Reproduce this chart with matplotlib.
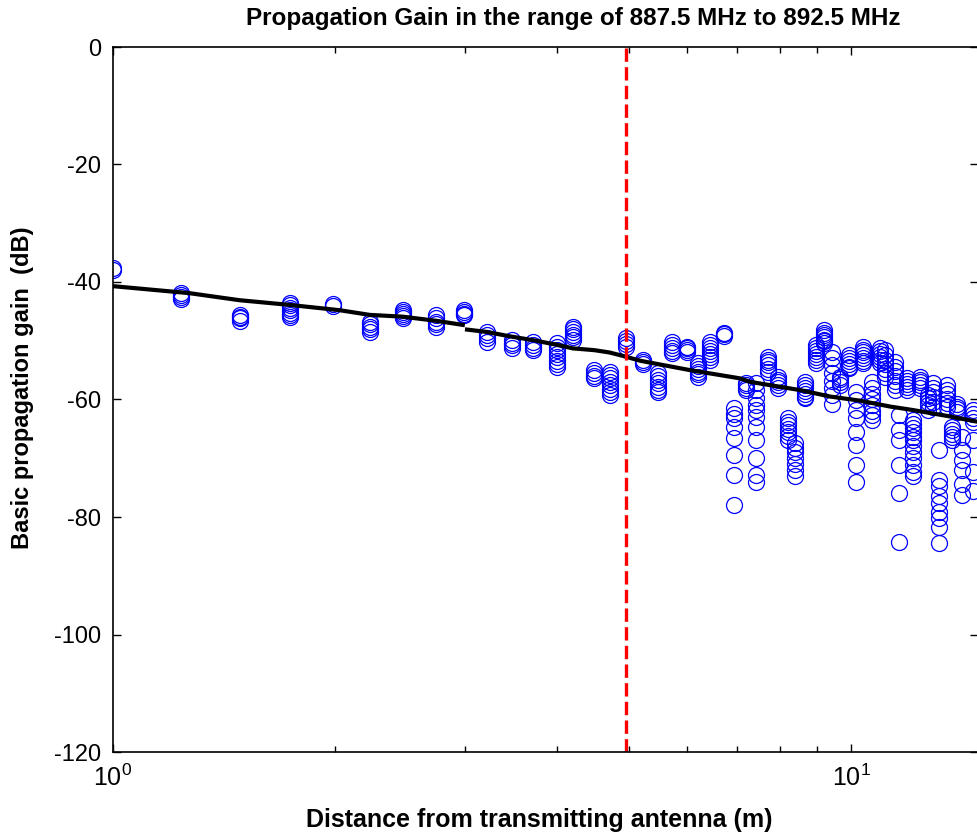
import numpy as np
import matplotlib
matplotlib.use('Agg')
import matplotlib.pyplot as plt

plt.rcParams['font.family'] = ['Liberation Sans', 'DejaVu Sans']
plt.rcParams['mathtext.fontset'] = 'custom'
plt.rcParams['mathtext.rm'] = 'Liberation Sans'
plt.rcParams['mathtext.it'] = 'Liberation Sans'
plt.rcParams['axes.unicode_minus'] = False

# measured points: distance (m) of each group and the gains (dB) measured there
cluster_dist = [1.0, 1.239, 1.486, 1.737, 1.987, 2.23, 2.47, 2.74, 2.99, 3.21,
                3.47, 3.71, 4.0, 4.2, 4.49, 4.71, 4.95, 5.23, 5.48, 5.72,
                6.0, 6.2, 6.44, 6.73, 6.94, 7.21, 7.43, 7.72, 7.96, 8.21,
                8.4, 8.66, 8.97, 9.19, 9.43, 9.66, 9.94, 10.16, 10.38, 10.68,
                10.95, 11.1, 11.47, 11.61, 11.91, 12.13, 12.38, 12.72, 12.92, 13.16,
                13.49, 13.71, 13.92, 14.14, 14.6]
cluster_gain = [
    [-37.6, -37.9],
    [-41.9, -42.2, -42.5, -42.9],
    [-45.6, -45.9, -46.2, -46.6],
    [-43.6, -44.0, -44.4, -44.8, -45.2, -45.6, -45.9],
    [-43.8, -44.1],
    [-46.8, -47.2, -47.6, -48.0, -48.5],
    [-44.8, -45.1, -45.4, -45.8, -46.1],
    [-45.6, -46.2, -46.8, -47.2, -47.6],
    [-44.8, -45.1, -45.4, -45.6],
    [-48.5, -49.0, -49.6, -50.2],
    [-49.9, -50.3, -50.8, -51.2],
    [-50.2, -50.7, -51.2, -51.6],
    [-50.4, -51.0, -51.6, -52.2, -52.8, -53.4, -54.0, -54.4],
    [-47.6, -48.0, -48.5, -49.0, -49.4, -49.9],
    [-55.0, -55.5, -56.0, -56.4],
    [-55.3, -55.8, -56.4, -57.0, -57.6, -58.2, -58.8, -59.2],
    [-49.5, -50.0, -50.5, -51.0],
    [-53.2, -53.6, -54.0],
    [-55.5, -56.0, -56.6, -57.2, -57.8, -58.3, -58.7],
    [-50.2, -50.7, -51.2, -51.7, -52.1],
    [-51.0, -51.3, -51.6, -51.9],
    [-53.8, -54.3, -54.8, -55.3, -55.7, -56.1],
    [-50.2, -50.7, -51.2, -51.7, -52.2, -52.7, -53.3],
    [-48.6, -48.9, -49.2],
    [-61.5, -62.4, -63.2, -64.6, -66.6, -69.4, -72.8, -78.0],
    [-57.2, -57.6, -58.0, -58.4],
    [-57.2, -58.4, -59.8, -60.9, -61.8, -62.9, -64.6, -66.9, -70.0, -72.9, -74.0],
    [-52.7, -53.2, -53.7, -54.2, -54.8, -55.3],
    [-56.1, -56.6, -57.1, -57.6, -58.1],
    [-63.2, -63.8, -64.4, -65.0, -65.6, -66.2, -66.9],
    [-67.4, -68.2, -69.0, -70.0, -71.0, -72.0, -73.1],
    [-57.0, -57.5, -58.0, -58.5, -59.0, -59.5, -59.8],
    [-50.7, -51.2, -51.7, -52.2, -52.7, -53.2, -53.8],
    [-48.2, -48.6, -49.0, -49.4, -49.8, -50.1, -50.4],
    [-51.9, -53.0, -54.2, -55.5, -56.8, -58.0, -59.2, -60.7],
    [-56.1, -56.5, -57.0, -57.5],
    [-52.4, -52.9, -53.4, -53.9, -54.4, -54.7],
    [-58.7, -60.1, -61.8, -63.2, -65.5, -67.7, -71.1, -74.0],
    [-51.0, -51.5, -52.0, -52.5, -53.0, -53.4, -53.8],
    [-57.0, -58.0, -59.0, -60.0, -61.0, -62.0, -62.7, -63.5],
    [-51.3, -51.8, -52.3, -52.8, -53.3, -53.8],
    [-51.6, -52.4, -53.2, -54.0, -54.8, -55.5, -56.1],
    [-53.6, -54.4, -55.2, -56.0, -56.8, -57.6, -58.4],
    [-62.6, -65.2, -66.9, -71.1, -76.0, -84.2],
    [-56.4, -56.9, -57.4, -57.9, -58.4],
    [-63.5, -64.2, -64.9, -65.6, -66.3, -66.9, -68.0, -69.0, -70.0, -71.2, -72.3, -73.1],
    [-56.1, -56.6, -57.1, -57.6, -58.1],
    [-59.2, -59.8, -60.4, -61.0, -61.8],
    [-57.2, -58.0, -58.8, -59.6, -60.4, -61.2],
    [-68.6, -73.7, -74.8, -76.5, -77.7, -79.1, -80.2, -81.7, -84.5],
    [-57.5, -58.3, -59.1, -60.0, -60.6, -61.2],
    [-64.6, -65.2, -65.8, -66.3, -66.9],
    [-60.7, -61.2, -61.6, -62.1],
    [-66.3, -68.6, -70.3, -72.0, -74.3, -76.3],
    [-61.8, -62.5, -63.2, -63.8, -66.9, -72.3, -75.5],
]

# smoothed trend, drawn in two pieces
fit1_dist = [1.0, 1.271, 1.486, 1.737, 2.03, 2.23, 2.47, 2.74, 2.98]
fit1_gain = [-40.7, -41.9, -43.1, -43.9, -44.8, -45.6, -45.9, -46.6, -47.3]
fit2_dist = [3.02, 3.21, 3.47, 3.71, 4.0, 4.2, 4.49, 4.71, 4.95, 5.18, 6.05,
             7.07, 7.30, 8.53, 9.37, 10.28, 11.29, 12.13, 13.49, 14.85]
fit2_gain = [-48.1, -48.5, -49.3, -49.9, -50.7, -51.3, -51.6, -52.0, -52.7, -53.4, -55.0,
             -56.4, -57.0, -58.4, -59.5, -60.2, -61.2, -61.8, -62.8, -63.8]

cutoff_dist = 4.95
x_max = 14.85


def main():
    fig = plt.figure(figsize=(9.77, 8.38), dpi=100)
    ax = fig.add_axes([112.5 / 977, 86 / 838, (978 - 112.5) / 977, 705 / 838])

    xs = np.concatenate([[d] * len(g) for d, g in zip(cluster_dist, cluster_gain)])
    ys = np.concatenate([g for g in cluster_gain])
    ax.plot(xs, ys, 'o', markerfacecolor='none', markeredgecolor='blue',
            markersize=11.5, markeredgewidth=0.9, linestyle='none')
    ax.plot(fit1_dist, fit1_gain, color='black', linewidth=3)
    ax.plot(fit2_dist, fit2_gain, color='black', linewidth=3)
    ax.axvline(cutoff_dist, color='red', linewidth=2.4, linestyle=(0, (4, 1.6)))

    ax.set_xscale('log')
    ax.set_xlim(1, x_max)
    ax.set_ylim(-120, 0)
    ax.set_xticks([1, 10], labels=[r'$10^{0}$', r'$10^{1}$'])
    ax.set_yticks(np.arange(-120, 1, 20))
    ax.tick_params(which='both', direction='in', top=True, right=True, width=1)
    ax.tick_params(which='major', length=6)
    ax.tick_params(which='minor', length=4)
    ax.tick_params(axis='y', pad=8, labelsize=17)
    ax.tick_params(axis='x', pad=9, labelsize=18)
    for s in ax.spines.values():
        s.set_linewidth(1.2)

    fig.text(573 / 977, 1 - 18 / 838, 'Propagation Gain in the range of 887.5 MHz to 892.5 MHz',
             ha='center', va='center', fontsize=17.5, fontweight='bold')
    fig.text(539 / 977, 1 - 820 / 838, 'Distance from transmitting antenna (m)',
             ha='center', va='center', fontsize=18, fontweight='bold')
    fig.text(23 / 977, 1 - 388 / 838, 'Basic propagation gain  (dB)',
             ha='center', va='center', rotation=90, fontsize=17, fontweight='bold')

    fig.savefig('out.png', dpi=100)


if __name__ == '__main__':
    main()
